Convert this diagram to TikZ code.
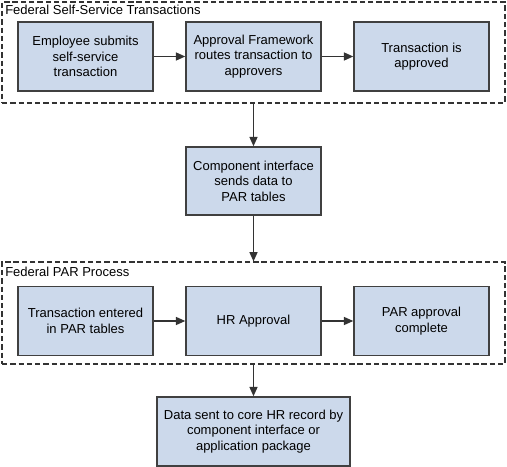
\documentclass[tikz,border=0pt]{standalone}
\usepackage{fontspec}
\setmainfont{Liberation Sans}
\usetikzlibrary{arrows.meta}
\definecolor{boxfill}{RGB}{204,217,235}
\definecolor{boxline}{RGB}{64,64,64}
\definecolor{lineclr}{RGB}{51,51,51}
\begin{document}
\begin{tikzpicture}[x=0.75pt,y=-0.75pt,
  stepbox/.style={draw=boxline, fill=boxfill, line width=1.1pt, align=center,
    minimum width=101.25pt, minimum height=51.75pt, inner sep=0pt,
    font=\fontsize{9.75}{11.6}\selectfont},
  groupbox/.style={draw=lineclr, line width=0.8pt, dash pattern=on 4pt off 2.2pt,
    minimum width=377.25pt, inner sep=0pt},
  grouplabel/.style={anchor=base west, inner sep=0pt, font=\fontsize{9.75}{11.6}\selectfont},
  flow/.style={draw=lineclr, line width=1pt, -{Triangle[length=7pt,width=6pt]}}]
\useasboundingbox (0,0) rectangle (507,467);
% containers
\node[groupbox, minimum height=75.75pt] (top) at (253.5,52.5) {};
\node[groupbox, minimum height=76.5pt] (bot) at (253.5,313) {};
\node[grouplabel] (toplbl) at (5,15) {Federal Self-Service Transactions};
\node[grouplabel] (botlbl) at (5,276) {Federal PAR Process};
% top row
\node[stepbox] (b1) at (85.5,56.5) {Employee submits\\self-service\\transaction};
\node[stepbox] (b2) at (253.5,56.5) {Approval Framework\\routes transaction to\\approvers};
\node[stepbox] (b3) at (421.5,56.5) {Transaction is\\approved};
% middle
\node[stepbox, minimum height=51pt] (ci) at (253.5,181) {Component interface\\sends data to\\PAR tables};
% bottom row
\node[stepbox] (p1) at (85.5,321) {Transaction entered\\in PAR tables};
\node[stepbox] (p2) at (253.5,321) {HR Approval};
\node[stepbox] (p3) at (421.5,321) {PAR approval\\complete};
% final
\node[stepbox, minimum width=144.75pt] (fin) at (253.5,431.5) {Data sent to core HR record by\\component interface or\\application package};
% connectors
\draw[flow] (b1) -- (b2);
\draw[flow] (b2) -- (b3);
\draw[flow] (top.south -| ci) -- (ci.north);
\draw[flow] (ci.south) -- (bot.north -| ci);
\draw[flow] (p1) -- (p2);
\draw[flow] (p2) -- (p3);
\draw[flow] (bot.south -| fin) -- (fin.north);
\end{tikzpicture}
\end{document}
